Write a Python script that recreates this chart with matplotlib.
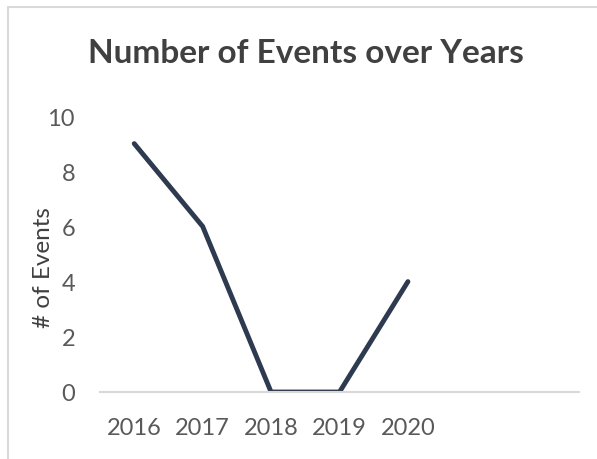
import matplotlib
matplotlib.use("Agg")
import matplotlib.pyplot as plt
from matplotlib.patches import Rectangle

# chart data
years = ["2016", "2017", "2018", "2019", "2020"]
events = [9, 6, 0, 0, 4]
n_slots = 7  # category axis has two empty slots after 2020

plt.rcParams['font.family'] = ['Lato', 'DejaVu Sans']

W, H = 597, 460
fig = plt.figure(figsize=(W / 100, H / 100), dpi=100)
ax = fig.add_axes([100 / W, 1 - 393 / H, (579 - 100) / W, (393 - 117) / H])

ax.plot(range(len(years)), events, color="#2e3a4f", linewidth=3.5,
        solid_joinstyle="round", solid_capstyle="round")

ax.set_xlim(-0.5, n_slots - 0.5)
ax.set_ylim(0, 10)
ax.set_xticks(range(len(years)))
ax.set_xticklabels(years)
ax.set_yticks(range(0, 11, 2))
ax.tick_params(axis="both", length=0, labelsize=17, labelcolor="#595959")
ax.tick_params(axis="x", pad=18)
ax.tick_params(axis="y", pad=18)

for side in ["left", "right", "top"]:
    ax.spines[side].set_visible(False)
ax.spines["bottom"].set_color("#d9d9d9")
ax.spines["bottom"].set_linewidth(1.5)

fig.text(44 / W, 1 - 268 / H, "# of Events", rotation=90, ha="center", va="center",
         fontsize=17.5, color="#404040")
fig.text(306 / W, 1 - 63 / H, "Number of Events over Years", ha="center", va="baseline",
         fontsize=24, fontweight="bold", color="#404040")

# outer chart border (cropped on right and bottom)
fig.add_artist(Rectangle((8 / W, -0.1), 1.2, 1 - 8 / H + 0.1, transform=fig.transFigure,
                         fill=False, edgecolor="#d9d9d9", linewidth=1.5))

fig.savefig("out.png", dpi=100)
